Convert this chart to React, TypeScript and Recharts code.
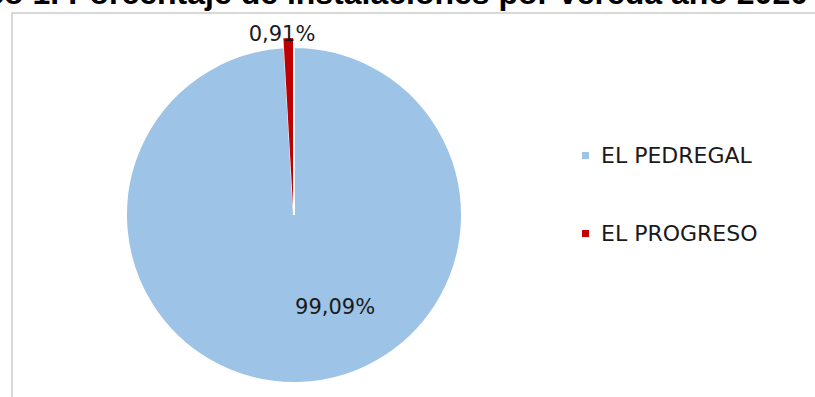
import { PieChart, Pie, Cell } from "recharts";

const VEREDAS = ["EL PEDREGAL", "EL PROGRESO"];
const PORCENTAJES = [99.09, 0.91];
const ETIQUETAS = ["99,09%", "0,91%"];
const COLORES = ["#9DC3E6", "#C00000"];

const dados = VEREDAS.map((name, i) => ({
  name,
  value: PORCENTAJES[i],
  etiqueta: ETIQUETAS[i],
}));

const FUENTE = "'DejaVu Sans', sans-serif";

// Etiqueta del sector grande (dentro, abajo a la derecha)
const etiquetaGrande = (props: any) => {
  const { cx, cy, outerRadius, index } = props;
  if (index !== 0) return null;
  return (
    <text
      x={cx + outerRadius * 0.245}
      y={cy + outerRadius * 0.548}
      textAnchor="middle"
      dominantBaseline="central"
      fontFamily={FUENTE}
      fontSize={21}
      fill="#1a1a1a"
    >
      {dados[0].etiqueta}
    </text>
  );
};

// Etiqueta del sector pequeño (fuera, arriba)
const etiquetaPequena = (props: any) => {
  const { cx, cy, outerRadius, index } = props;
  if (index !== 1) return null;
  return (
    <text
      x={cx - 11}
      y={cy - outerRadius - 4}
      textAnchor="middle"
      dominantBaseline="central"
      fontFamily={FUENTE}
      fontSize={21}
      fill="#1a1a1a"
    >
      {dados[1].etiqueta}
    </text>
  );
};

const Leyenda = () => (
  <div style={{ fontFamily: FUENTE, fontSize: 22, color: "#1a1a1a" }}>
    {dados.map((d, i) => (
      <div
        key={d.name}
        style={{ display: "flex", alignItems: "center", height: 26, marginBottom: i === 0 ? 52 : 0 }}
      >
        <span
          style={{ width: 7, height: 7, background: COLORES[i], marginRight: 12, display: "inline-block", flexShrink: 0 }}
        />
        <span>{d.name}</span>
      </div>
    ))}
  </div>
);

export default function App() {
  return (
    <div
      style={{
        position: "absolute",
        left: 0,
        top: 0,
        width: 815,
        height: 397,
        overflow: "hidden",
        background: "#fff",
      }}
    >
      <div
        style={{
          position: "absolute",
          right: 7,
          top: -23,
          whiteSpace: "nowrap",
          fontFamily: "'Liberation Sans', Arial, sans-serif",
          fontWeight: "bold",
          fontSize: 32,
          lineHeight: "32px",
          color: "#000",
        }}
      >
        Gráfico 1. Porcentaje de instalaciones por vereda año 2020
      </div>
      <div
        style={{
          position: "absolute",
          left: 11,
          top: 12,
          width: 900,
          height: 500,
          border: "2px solid #d9d9d9",
        }}
      />
      <div style={{ position: "absolute", left: 0, top: 0 }}>
        <PieChart width={815} height={397} margin={{ top: 0, right: 0, bottom: 0, left: 0 }}>
          <Pie
            data={dados}
            dataKey="value"
            nameKey="name"
            cx={294}
            cy={215}
            outerRadius={168}
            startAngle={90}
            endAngle={-270}
            stroke="#fff"
            strokeWidth={2}
            label={etiquetaGrande}
            labelLine={false}
            isAnimationActive={false}
          >
            {dados.map((d, i) => (
              <Cell key={d.name} fill={i === 0 ? COLORES[0] : "none"} stroke={i === 0 ? "#fff" : "none"} />
            ))}
          </Pie>
          <Pie
            data={dados}
            dataKey="value"
            nameKey="name"
            cx={293}
            cy={206}
            outerRadius={168}
            startAngle={90}
            endAngle={-270}
            stroke="#fff"
            strokeWidth={1}
            label={etiquetaPequena}
            labelLine={false}
            isAnimationActive={false}
          >
            {dados.map((d, i) => (
              <Cell key={d.name} fill={i === 1 ? COLORES[1] : "none"} stroke="none" />
            ))}
          </Pie>
        </PieChart>
      </div>
      <div style={{ position: "absolute", left: 582, top: 142, width: 220 }}>
        <Leyenda />
      </div>
    </div>
  );
}
